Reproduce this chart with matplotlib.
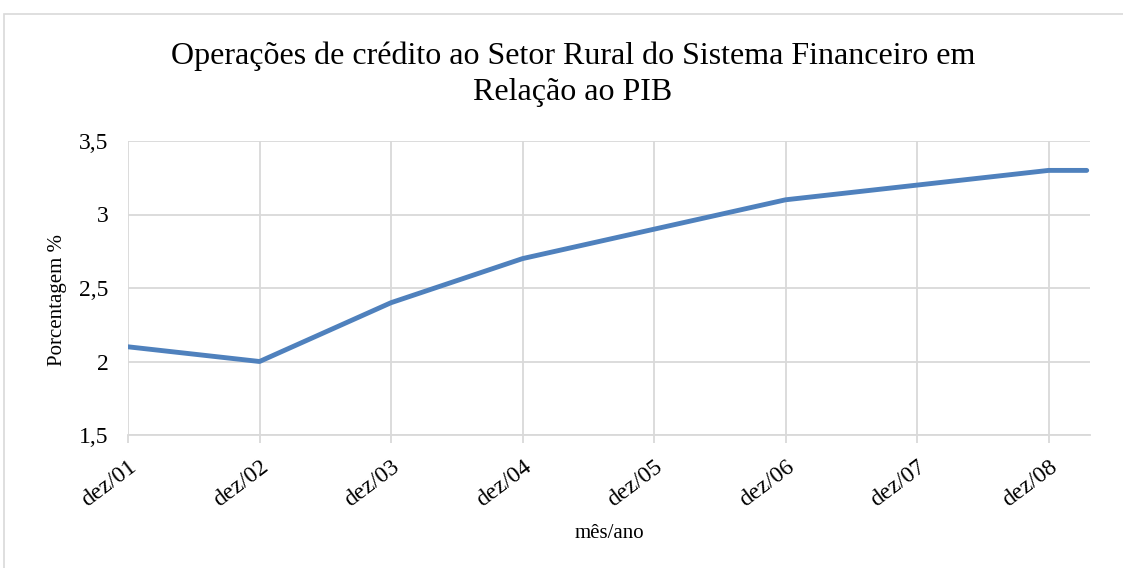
import matplotlib
matplotlib.use("Agg")
import matplotlib.pyplot as plt
from matplotlib.patches import Rectangle

categories = ["dez/01", "dez/02", "dez/03", "dez/04", "dez/05", "dez/06", "dez/07", "dez/08"]
x_pos = [0, 1, 2, 3, 4, 5, 6, 7, 7.29]
values = [2.1, 2.0, 2.4, 2.7, 2.9, 3.1, 3.2, 3.3, 3.3]
y_ticks = [1.5, 2.0, 2.5, 3.0, 3.5]
y_labels = ["1,5", "2", "2,5", "3", "3,5"]

plt.rcParams['font.family'] = ['Liberation Serif', 'DejaVu Serif']

W, H = 1123, 568
fig = plt.figure(figsize=(W / 100, H / 100), dpi=100)
ax = fig.add_axes([128 / W, 1 - 435 / H, (1090 - 128) / W, (435 - 141) / H])

fig.patches.append(Rectangle((4 / W, -0.01), 1.2, 1 - 14 / H + 0.01, transform=fig.transFigure,
                             fill=False, edgecolor='#d9d9d9', linewidth=1.2))

ax.plot(x_pos, values, color='#4f81bd', linewidth=3.5, solid_capstyle='round', zorder=3)

ax.set_xlim(0, 7.315)
ax.set_ylim(1.5, 3.5)
ax.set_yticks(y_ticks)
ax.set_yticklabels(y_labels, fontsize=17)
ax.set_xticks(range(len(categories)))
ax.set_xticklabels(categories, fontsize=17, rotation=37, ha='right', rotation_mode='anchor')

ax.grid(True, color='#d9d9d9', linewidth=1.3)
ax.set_axisbelow(True)
for s in ['top', 'right', 'left']:
    ax.spines[s].set_visible(False)
ax.spines['bottom'].set_color('#d9d9d9')
ax.spines['bottom'].set_linewidth(1.3)
ax.tick_params(axis='y', length=0, pad=14)
ax.tick_params(axis='x', length=6, color='#d9d9d9', width=1.3, pad=9)

ax.set_ylabel("Porcentagem %", fontsize=15, va='center')
ax.yaxis.set_label_coords(-0.0735, 0.46)
ax.set_xlabel("mês/ano", fontsize=15, labelpad=10)
fig.text(573 / W, 1 - 74 / H, "Operações de crédito ao Setor Rural do Sistema Financeiro em\nRelação ao PIB",
         ha='center', va='center', fontsize=23, linespacing=1.32)

fig.savefig("out.png", dpi=100)
